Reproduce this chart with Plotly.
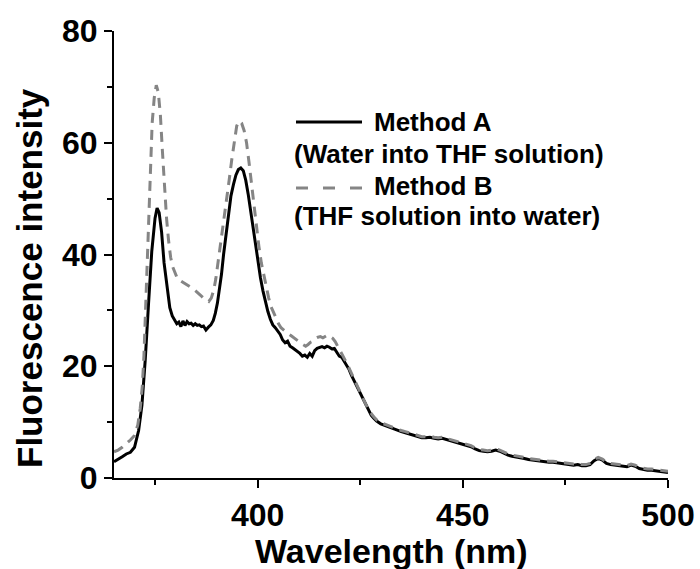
import plotly.graph_objects as go

# Emission spectra (wavelength in nm, intensity in a.u.)
wl_a = [365, 366, 367, 368, 369, 370, 371, 371.8, 372.6, 373.4, 374.2, 375, 375.5, 376,
        376.6, 377.2, 378, 378.6, 379.2, 379.8, 380.3, 380.8, 381.3, 381.8, 382.3, 382.8,
        383.3, 383.8, 384.3, 384.8, 385.3, 385.8, 386.3, 386.8, 387.4, 388, 388.6, 389.2,
        389.7, 390.2, 390.7, 391.2, 391.7, 392.3, 392.9, 393.5, 394.1, 394.7, 395.3, 395.9,
        396.5, 397.1, 397.7, 398.3, 398.9, 399.5, 400.1, 400.7, 401.3, 401.9, 402.5, 403.1,
        403.7, 404.3, 404.9, 405.5, 406.1, 406.7, 407.3, 407.9, 408.5, 409.1, 409.7, 410.3,
        410.9, 411.5, 412.1, 412.7, 413.3, 413.9, 414.5, 415.1, 415.7, 416.3, 416.9, 417.5,
        418.1, 418.7, 419.3, 419.9, 420.5, 421.1, 421.7, 422.3, 422.9, 423.5, 424.1, 424.7,
        425.3, 425.9, 426.5, 427.1, 427.7, 428.3, 429, 430, 431, 432, 433, 434, 435, 436,
        437, 438, 439, 440, 441, 442, 443, 444, 445, 446, 447, 448, 449, 450, 451, 452, 453,
        454, 455, 456, 457, 458, 459, 460, 461, 462, 463, 464, 465, 466, 467, 468, 469, 470,
        471, 472, 473, 474, 475, 476, 477, 478, 479, 480, 481, 482, 483, 484, 485, 486, 487,
        488, 489, 490, 491, 492, 493, 494, 495, 496, 497, 498, 499, 500]
int_a = [2.9, 3.3, 3.8, 4.3, 4.6, 5.5, 8.5, 13, 21, 31, 40.5, 46.5, 48.3, 47.5,
         44, 38.5, 33.5, 30.5, 29, 28.2, 27.6, 27.9, 27.1, 28.1, 27.3, 28,
         27.6, 27.7, 27.3, 27.6, 27.3, 27.4, 27.1, 27.2, 26.5, 27, 27.4, 28.2,
         29.5, 31.3, 33.5, 36.5, 40, 43.5, 47.5, 50.5, 52.5, 54.2, 55.2, 55.5,
         55, 53.3, 50.8, 47.8, 44.5, 41.5, 38.5, 35.8, 33.5, 31.5, 29.8, 28.4,
         27.4, 26.9, 26.2, 25.7, 24.7, 24.2, 24.5, 23.6, 23.3, 23.0, 22.7, 22.3,
         21.8, 22.0, 21.6, 22.3, 21.8, 22.8, 23.2, 23.3, 23.5, 23.3, 23.6, 23.4,
         23.1, 23.2, 22.6, 21.8, 21.6, 20.8, 20.2, 19.4, 18.3, 17.4, 16.5, 15.6,
         14.6, 13.7, 12.8, 12.0, 11.2, 10.7, 10.2, 9.7, 9.4, 9.1, 8.9, 8.6, 8.3, 8.1,
         7.9, 7.7, 7.5, 7.2, 7.2, 7.3, 7.1, 7.0, 7.1, 6.9, 6.7, 6.5, 6.3, 6.0, 5.8, 5.6, 5.2,
         4.9, 4.8, 4.7, 4.8, 5.0, 4.8, 4.4, 4.1, 3.9, 3.8, 3.6, 3.5, 3.3, 3.2, 3.0, 3.0, 2.9,
         2.8, 2.8, 2.7, 2.6, 2.5, 2.5, 2.3, 2.4, 2.2, 2.2, 2.4, 3.1, 3.5, 3.2, 2.6, 2.4, 2.3,
         2.1, 2.1, 2.0, 2.3, 2.1, 1.7, 1.5, 1.4, 1.4, 1.3, 1.2, 1.1, 1.0]

wl_b = [365, 366, 367, 368, 369, 370, 370.8, 371.4, 371.9, 372.3, 372.7, 373.1, 373.5,
        373.9, 374.3, 374.8, 375.3, 375.8, 376.3, 376.8, 377.3, 377.8, 378.3, 378.8, 379.3,
        379.9, 380.5, 381.2, 381.9, 382.6, 383.3, 384, 384.7, 385.4, 386.1, 386.8, 387.5,
        388.1, 388.7, 389.3, 389.8, 390.3, 390.8, 391.3, 391.9, 392.5, 393.1, 393.7, 394.3,
        394.9, 395.5, 396.1, 396.7, 397.3, 397.9, 398.5, 399.1, 399.7, 400.3, 400.9, 401.5,
        402.1, 402.7, 403.3, 403.9, 404.5, 405.1, 405.7, 406.3, 406.9, 407.5, 408.1, 408.7,
        409.3, 409.9, 410.5, 411.1, 411.7, 412.3, 412.9, 413.5, 414.1, 414.7, 415.3, 415.9,
        416.5, 417.1, 417.7, 418.3, 418.9, 419.5, 420.1, 420.7, 421.3, 421.9, 422.5, 423.1,
        423.7, 424.3, 424.9, 425.5, 426.1, 426.7, 427.3, 427.9, 428.5, 429, 430, 431, 432,
        433, 434, 435, 436, 437, 438, 439, 440, 441, 442, 443, 444, 445, 446, 447, 448, 449,
        450, 451, 452, 453, 454, 455, 456, 457, 458, 459, 460, 461, 462, 463, 464, 465, 466,
        467, 468, 469, 470, 471, 472, 473, 474, 475, 476, 477, 478, 479, 480, 481, 482, 483,
        484, 485, 486, 487, 488, 489, 490, 491, 492, 493, 494, 495, 496, 497, 498, 499, 500]
int_b = [4.7, 5.0, 5.5, 6.1, 6.8, 7.6, 9.5, 12.5, 16.5, 22, 30, 40, 49,
         57, 63.5, 68, 70.3, 69, 65, 58.5, 52, 46.5, 42.5, 39.5, 37.8,
         36.5, 35.6, 35.3, 35.0, 34.6, 34.3, 34.0, 33.6, 33.2, 32.7, 32.2, 31.8,
         31.6, 32.2, 33.6, 35.6, 38.2, 40.8, 43.5, 47, 50.5, 53.5, 57, 60.5,
         63, 63.9, 63.5, 62.2, 60, 56.5, 52.5, 48.5, 44.8, 41.5, 38.5, 36.2,
         34, 32.2, 30.6, 29.5, 28.5, 27.6, 26.9, 26.5, 26.1, 25.8, 25.5, 25.2,
         24.8, 24.5, 24.1, 23.8, 23.6, 23.9, 24.3, 24.5, 25.0, 25.2, 25.3, 25.1,
         25.4, 25.6, 25.3, 25.0, 24.4, 23.6, 22.9, 22.0, 21.1, 20.3, 19.3, 18.3,
         17.3, 16.3, 15.4, 14.5, 13.6, 12.7, 11.9, 11.3, 10.8, 10.4, 9.9, 9.6, 9.3,
         9.1, 8.8, 8.5, 8.3, 8.1, 7.9, 7.7, 7.4, 7.4, 7.5, 7.3, 7.2, 7.3, 7.1, 6.9, 6.7, 6.5,
         6.2, 6.0, 5.8, 5.4, 5.1, 5.0, 4.9, 5.0, 5.2, 5.0, 4.6, 4.3, 4.1, 4.0, 3.8, 3.7, 3.5,
         3.4, 3.2, 3.2, 3.1, 3.0, 3.0, 2.9, 2.8, 2.7, 2.7, 2.5, 2.6, 2.4, 2.4, 2.6, 3.3, 3.7,
         3.4, 2.8, 2.6, 2.5, 2.3, 2.3, 2.2, 2.5, 2.3, 1.9, 1.7, 1.6, 1.6, 1.5, 1.4, 1.3, 1.2]

x_ticks = [400, 450, 500]
x_minor = [375, 425, 475]
y_ticks = [0, 20, 40, 60, 80]
y_minor = [10, 30, 50, 70]

legend_rows = ["Method A", "(Water into THF solution)", "Method B", "(THF solution into water)"]

FONT = "Liberation Sans, Arial, sans-serif"
GRAY = "#858585"
B_DASH = "10px,7px"

# plot-area geometry in pixels (used to place legend and titles)
L, R, T, B = 114, 668, 31, 478
W, H = 700, 569


def px(xp):
    return (xp - L) / (R - L)


def py(yp):
    return (B - yp) / (B - T)


fig = go.Figure()
fig.add_trace(go.Scatter(x=wl_a, y=int_a, mode="lines", name="Method A",
                         line=dict(color="black", width=3)))
fig.add_trace(go.Scatter(x=wl_b, y=int_b, mode="lines", name="Method B",
                         line=dict(color=GRAY, width=3, dash=B_DASH)))

axis_common = dict(
    showline=True, linecolor="black", linewidth=2, mirror=False,
    showgrid=False, zeroline=False, automargin=False,
    ticks="outside", ticklen=8, tickwidth=2, tickcolor="black",
    tickfont=dict(family=FONT, size=32, color="black", weight="bold"),
)

fig.update_xaxes(range=[365, 500], tickvals=x_ticks,
                 minor=dict(ticks="outside", ticklen=5, tickwidth=2, tickcolor="black",
                            tickvals=x_minor),
                 **axis_common)
fig.update_yaxes(range=[0, 80], tickvals=y_ticks,
                 minor=dict(ticks="outside", ticklen=5, tickwidth=2, tickcolor="black",
                            tickvals=y_minor),
                 **axis_common)

annotations = [
    dict(text="Wavelength (nm)", x=0.5, y=py(551), xref="paper", yref="paper",
         xanchor="center", yanchor="middle", showarrow=False,
         font=dict(family=FONT, size=34, color="black", weight="bold")),
    dict(text="Fluorescence intensity", x=px(29), y=py(278), xref="paper", yref="paper",
         xanchor="center", yanchor="middle", textangle=-90, showarrow=False,
         font=dict(family=FONT, size=35, color="black", weight="bold")),
]

leg_font = dict(family=FONT, size=26, color="black", weight="bold")
leg_pos = [(372, 122), (292, 154), (372, 186), (292, 216)]
for txt, (lx, ly) in zip(legend_rows, leg_pos):
    annotations.append(dict(text=txt, x=px(lx), y=py(ly), xref="paper", yref="paper",
                            xanchor="left", yanchor="middle", showarrow=False,
                            font=leg_font))

shapes = [
    dict(type="line", xref="paper", yref="paper", x0=px(296), x1=px(362), y0=py(122), y1=py(122),
         line=dict(color="black", width=3)),
    dict(type="line", xref="paper", yref="paper", x0=px(296), x1=px(362), y0=py(188), y1=py(188),
         line=dict(color=GRAY, width=3, dash="12px,15px")),
]

fig.update_layout(
    width=W, height=H,
    margin=dict(l=L, r=W - R, t=T, b=H - B),
    paper_bgcolor="white", plot_bgcolor="white",
    showlegend=False,
    annotations=annotations, shapes=shapes,
)

fig.write_html("out.html")
